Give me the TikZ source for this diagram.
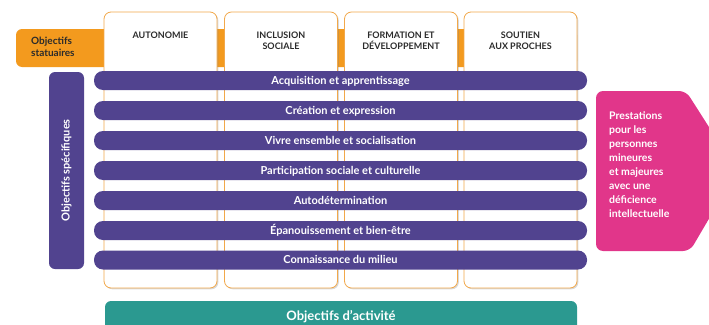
\documentclass[tikz,border=0pt]{standalone}
\usepackage{fontspec}
\setmainfont{Lato}
\usetikzlibrary{positioning,shadows}

\definecolor{statorange}{HTML}{F39A1E}
\definecolor{colorange}{HTML}{F2A84A}
\definecolor{specpurple}{HTML}{51438F}
\definecolor{prestpink}{HTML}{E1368A}
\definecolor{actteal}{HTML}{2B9990}
\definecolor{headtext}{HTML}{2B2B2B}

\begin{document}
\begin{tikzpicture}[x=1pt,y=-1pt]
\useasboundingbox (0,0) rectangle (709,324);

% bande des objectifs statuaires
\node[fill=statorange, rounded corners=6pt, minimum width=561pt, minimum height=38pt] (stat) at (296.5,48) {};
\node[anchor=west, align=left, inner sep=0pt, text=headtext, font=\bfseries\fontsize{10}{12}\selectfont] (statlbl) at (31,47) {Objectifs\\statuaires};

\begin{scope}[every node/.style={draw=colorange, fill=white, line width=0.8pt, rounded corners=7pt, minimum width=113pt, minimum height=276pt, drop shadow={opacity=0.3,shadow xshift=1.3pt,shadow yshift=-1.3pt}}]
	\node (auto) at (160.5,150) {};
	\node (incl) at (281,150) {};
	\node (form) at (401,150) {};
	\node (sout) at (520.5,150) {};
\end{scope}

\begin{scope}[every node/.style={anchor=north, align=center, inner sep=0pt, text=headtext, font=\bfseries\fontsize{9}{11}\selectfont}]
	\node (hauto) at (160.5,32) {AUTONOMIE};
	\node (hincl) at (281,32) {INCLUSION\\SOCIALE};
	\node (hform) at (401,32) {FORMATION ET\\DÉVELOPPEMENT};
	\node (hsout) at (520.5,32) {SOUTIEN\\AUX PROCHES};
\end{scope}

\begin{scope}[every node/.style={fill=specpurple, rounded corners=9pt, minimum width=493pt, minimum height=19pt, inner sep=0pt, text height=7.9pt, text depth=0pt, text=white, font=\bfseries\fontsize{11}{13}\selectfont}]
	\node (acq) at (340.5,80.5) {Acquisition et apprentissage};
	\node (crea) at (340.5,110.5) {Création et expression};
	\node (vivre) at (340.5,140.5) {Vivre ensemble et socialisation};
	\node (part) at (340.5,170.5) {Participation sociale et culturelle};
	\node (autod) at (340.5,200.5) {Autodétermination};
	\node (epan) at (340.5,230.5) {Épanouissement et bien-être};
	\node (conn) at (340.5,260) {Connaissance du milieu};
\end{scope}

\node[fill=specpurple, rounded corners=6pt, rotate=90, minimum width=197pt, minimum height=35pt, inner sep=0pt, text=white, font=\bfseries\fontsize{11}{13}\selectfont] (spec) at (66.5,170.5) {Objectifs spécifiques};

\begin{scope}
	\clip (0,0) rectangle (709,324);
	% prestations
	\fill[prestpink, rounded corners=7pt] (596,91) -- (686,91) -- (737,171) -- (690,251) -- (596,251) -- cycle;
	\node[anchor=north west, align=left, inner sep=0pt, text=white, font=\bfseries\fontsize{10.5}{14}\selectfont] (prest) at (609,111) {Prestations\\pour les\\personnes\\mineures\\et majeures\\avec une\\déficience\\intellectuelle};
	% objectifs d'activite
	\node[fill=actteal, rounded corners=6pt, minimum width=472pt, minimum height=32pt, text=white, font=\bfseries\fontsize{13}{15}\selectfont] (act) at (341,317) {Objectifs d’activité};
\end{scope}
\end{tikzpicture}
\end{document}
